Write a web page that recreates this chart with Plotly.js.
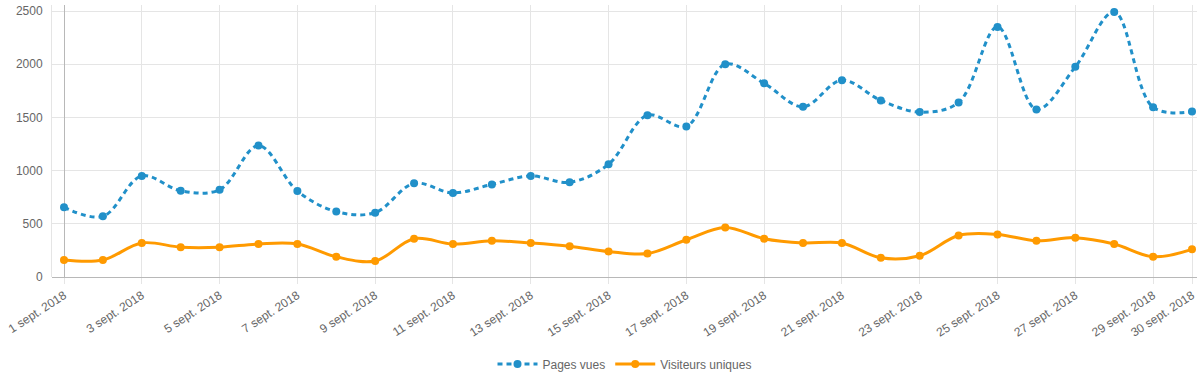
<!DOCTYPE html>
<html>
<head>
<meta charset="utf-8">
<script src="https://cdn.plot.ly/plotly-3.0.1.min.js"></script>
<style>html,body{margin:0;padding:0;background:#fff}#chart{width:1200px;height:382px}</style>
</head>
<body>
<div id="chart"></div>
<script>
const dates = ["1 sept. 2018","2 sept. 2018","3 sept. 2018","4 sept. 2018","5 sept. 2018","6 sept. 2018","7 sept. 2018","8 sept. 2018","9 sept. 2018","10 sept. 2018","11 sept. 2018","12 sept. 2018","13 sept. 2018","14 sept. 2018","15 sept. 2018","16 sept. 2018","17 sept. 2018","18 sept. 2018","19 sept. 2018","20 sept. 2018","21 sept. 2018","22 sept. 2018","23 sept. 2018","24 sept. 2018","25 sept. 2018","26 sept. 2018","27 sept. 2018","28 sept. 2018","29 sept. 2018","30 sept. 2018"];
const pagesVues = [655,570,950,810,820,1235,808,615,605,880,790,870,950,890,1060,1520,1415,2000,1820,1600,1850,1660,1550,1640,2350,1575,1975,2490,1595,1555];
const visiteursUniques = [160,160,320,280,280,310,310,190,150,360,310,340,320,290,240,220,350,465,360,320,320,180,200,390,400,340,370,310,190,260];
const shownLabels = ["1 sept. 2018","3 sept. 2018","5 sept. 2018","7 sept. 2018","9 sept. 2018","11 sept. 2018","13 sept. 2018","15 sept. 2018","17 sept. 2018","19 sept. 2018","21 sept. 2018","23 sept. 2018","25 sept. 2018","27 sept. 2018","29 sept. 2018","30 sept. 2018"];

const xIdx = dates.map((d, i) => i);
const tickIdx = shownLabels.map(l => dates.indexOf(l));

const blue = "#2190c9";
const orange = "#ff9a00";
const font = "Liberation Sans, Arial, Helvetica, sans-serif";

const traces = [
  {
    type: "scatter", mode: "lines+markers", name: "Pages vues",
    x: xIdx, y: pagesVues, text: dates,
    line: {color: blue, width: 3, dash: "5px,4px", shape: "spline", smoothing: 1},
    marker: {color: blue, size: 8},
    cliponaxis: false
  },
  {
    type: "scatter", mode: "lines+markers", name: "Visiteurs uniques",
    x: xIdx, y: visiteursUniques, text: dates,
    line: {color: orange, width: 3, shape: "spline", smoothing: 1},
    marker: {color: orange, size: 8},
    cliponaxis: false
  }
];

const layout = {
  width: 1200, height: 382,
  margin: {l: 52, r: 3, t: 5, b: 105},
  paper_bgcolor: "#fff", plot_bgcolor: "#fff",
  font: {family: font, size: 12, color: "#666"},
  showlegend: true,
  legend: {orientation: "h", x: 0.5, xanchor: "center", y: -0.32, yanchor: "middle",
           font: {family: font, size: 12, color: "#666"}, itemwidth: 40},
  xaxis: {
    type: "linear",
    range: [-12/38.9, 29 + 5/38.9],
    tickmode: "array", tickvals: tickIdx, ticktext: shownLabels,
    tickangle: -33,
    ticks: "outside", ticklen: 6, tickcolor: "#e5e5e5",
    showgrid: true, gridcolor: "#e5e5e5", gridwidth: 1,
    zeroline: true, zerolinecolor: "#b8b8b8", zerolinewidth: 1,
    showline: false,
    tickfont: {family: font, size: 12, color: "#666"},
    fixedrange: true
  },
  yaxis: {
    range: [0, 2500 * 272 / 266],
    tickmode: "array", tickvals: [0, 500, 1000, 1500, 2000, 2500],
    ticks: "", ticklabelstandoff: 6,
    showgrid: true, gridcolor: "#e5e5e5", gridwidth: 1,
    zeroline: true, zerolinecolor: "#b8b8b8", zerolinewidth: 1,
    showline: true, linecolor: "#e5e5e5", linewidth: 1,
    tickfont: {family: font, size: 12, color: "#666"},
    fixedrange: true
  }
};

Plotly.newPlot("chart", traces, layout, {displayModeBar: false, staticPlot: true});
</script>
</body>
</html>
